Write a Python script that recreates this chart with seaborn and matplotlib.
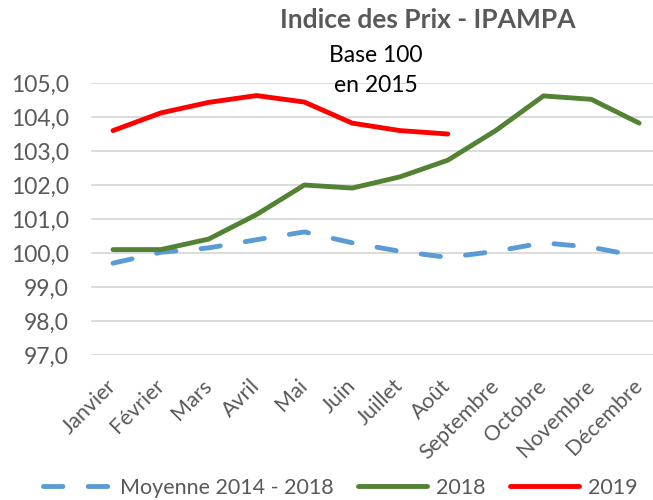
import numpy as np
import pandas as pd
import seaborn as sns
import matplotlib.pyplot as plt

#  Données
mois = ['Janvier', 'Février', 'Mars', 'Avril', 'Mai', 'Juin', 'Juillet',
        'Août', 'Septembre', 'Octobre', 'Novembre', 'Décembre']
moyenne = [99.70, 100.02, 100.15, 100.39, 100.62, 100.30, 100.05, 99.87,
           100.05, 100.30, 100.17, 99.90]
annee_2018 = [100.10, 100.10, 100.41, 101.13, 102.00, 101.91, 102.24, 102.73,
              103.60, 104.62, 104.52, 103.82]
annee_2019 = [103.60, 104.12, 104.43, 104.63, 104.44, 103.82, 103.60, 103.50]

series = ['Moyenne 2014 - 2018', '2018', '2019']
couleurs = {'Moyenne 2014 - 2018': '#5B9BD5', '2018': '#548235', '2019': '#FF0000'}
tirets = {'Moyenne 2014 - 2018': (4, 5.2), '2018': '', '2019': ''}

gris = '#595959'

df = pd.concat([
    pd.DataFrame({'mois': range(len(moyenne)), 'valeur': moyenne, 'serie': series[0]}),
    pd.DataFrame({'mois': range(len(annee_2018)), 'valeur': annee_2018, 'serie': series[1]}),
    pd.DataFrame({'mois': range(len(annee_2019)), 'valeur': annee_2019, 'serie': series[2]}),
])

sns.set_style('white')
plt.rcParams['font.family'] = ['Lato', 'DejaVu Sans']

fig = plt.figure(figsize=(6.53, 5.0), dpi=100)
ax = fig.add_axes([0.1394, 0.29, 0.8606, 0.544])

sns.lineplot(data=df, x='mois', y='valeur', hue='serie', style='serie',
             hue_order=series, style_order=series, palette=couleurs,
             dashes=tirets, linewidth=3.5, ax=ax, legend=True)
for ln in ax.lines:
    ln.set_solid_capstyle('round')
    ln.set_dash_capstyle('round')

ax.set_ylim(97, 105)
ax.set_xlim(-0.46, 11.29)
ax.set_yticks(np.arange(97, 105.1, 1))
ax.set_yticklabels([f'{v:.1f}'.replace('.', ',') for v in np.arange(97, 105.1, 1)],
                   fontsize=16.5, color=gris)
ax.set_xticks(range(len(mois)))
ax.set_xticklabels(mois, rotation=45, ha='right', va='center', rotation_mode='anchor',
                   fontsize=15.5, color=gris)
ax.tick_params(axis='both', length=0)
ax.tick_params(axis='y', pad=16)
ax.tick_params(axis='x', pad=20)
ax.set_xlabel('')
ax.set_ylabel('')
ax.grid(axis='y', color='#D9D9D9', linewidth=1.3)
ax.set_axisbelow(True)
for s in ax.spines.values():
    s.set_visible(False)

handles, labels = ax.get_legend_handles_labels()
ax.legend(handles, labels, loc='center', bbox_to_anchor=(0.443, -0.489),
          ncol=3, frameon=False, fontsize=15.5, labelcolor=gris,
          handlelength=3.2, handletextpad=0.4, columnspacing=1.15)

fig.text(0.655, 0.961, 'Indice des Prix - IPAMPA', ha='center', va='center',
         fontsize=19, fontweight='bold', color=gris)
fig.text(0.576, 0.89, 'Base 100', ha='center', va='center', fontsize=16.5, color='black')
fig.text(0.576, 0.83, 'en 2015', ha='center', va='center', fontsize=16.5, color='black')

fig.savefig('out.png', dpi=100)
